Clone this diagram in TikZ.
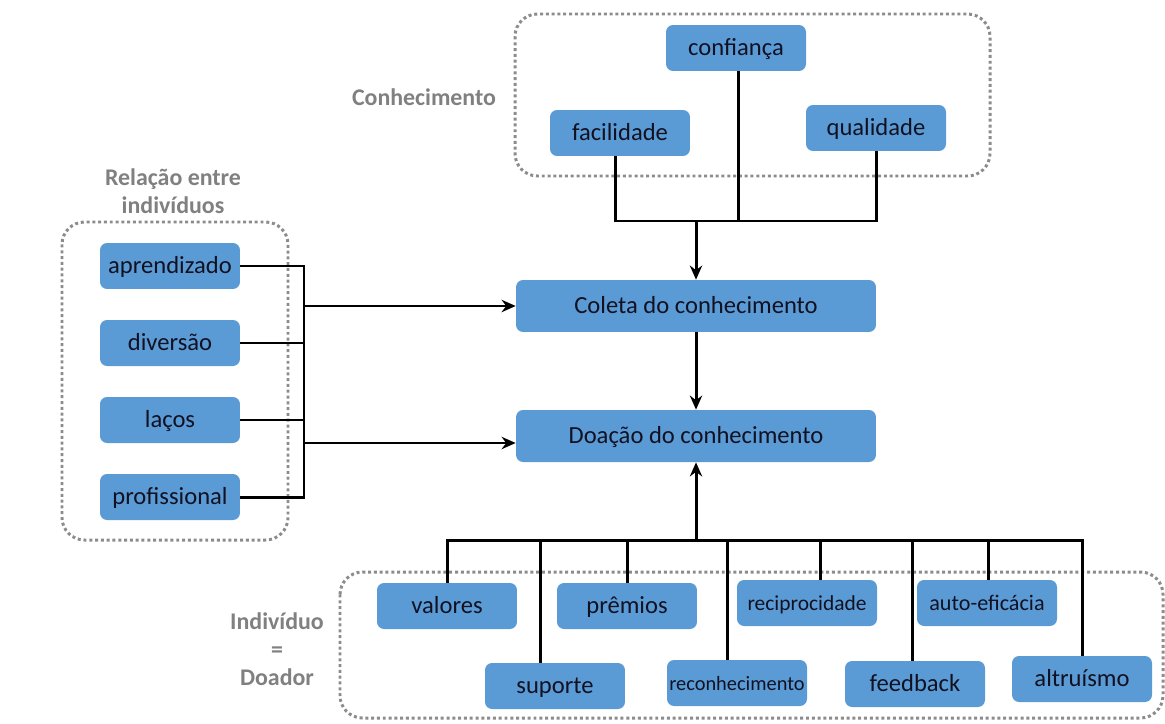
\documentclass[tikz,border=0pt]{standalone}
\usepackage{fontspec}
\setmainfont{Carlito}
\usetikzlibrary{arrows.meta}
\definecolor{azul}{HTML}{5B9BD5}
\definecolor{texto}{HTML}{111122}
\definecolor{cinza}{HTML}{808080}
\definecolor{pontos}{HTML}{8C8C8C}
\tikzset{
  caixa/.style={fill=azul, rounded corners=4pt, text=texto, minimum width=2.8cm,
    minimum height=0.92cm, inner sep=1pt, text height=10.6pt, text depth=2.4pt,
    font=\fontsize{14}{16}\selectfont},
  grande/.style={caixa, minimum width=7.2cm, minimum height=1.04cm},
  grupo/.style={draw=pontos, line width=1.7pt, dash pattern=on 1.7pt off 1.6pt, rounded corners=0.45cm},
  rotulo/.style={text=cinza, align=center, font=\bfseries\fontsize{13.6}{15.8}\selectfont},
  linha/.style={line width=1.7pt},
  seta/.style={linha, -{Stealth[length=8pt,width=7pt]}}
}
\begin{document}
\begin{tikzpicture}[x=0.02cm, y=-0.02cm]
\useasboundingbox (0,0) rectangle (1165,723);
% grupos
\draw[grupo] (515,14) rectangle (990,176);
\draw[grupo] (62,222) rectangle (288,540);
\draw[grupo] (340,572) rectangle (1163,718);
\node[rotulo] (lconh) at (424,97) {Conhecimento};
\node[rotulo] (lrel) at (173,191) {Relação entre\\indivíduos};
\node[rotulo] (lind) at (277,649) {Indivíduo\\=\\Doador};
% conhecimento
\node[caixa] (conf) at (736,48) {confiança};
\node[caixa] (facil) at (620,133) {facilidade};
\node[caixa] (qual) at (876,128) {qualidade};
% centro
\node[grande] (coleta) at (696,306) {Coleta do conhecimento};
\node[grande] (doacao) at (696,436) {Doação do conhecimento};
% relacao
\node[caixa] (aprend) at (170,266) {aprendizado};
\node[caixa] (divers) at (170,343) {diversão};
\node[caixa] (lacos) at (170,420) {laços};
\node[caixa] (prof) at (170,497) {profissional};
% doador
\node[caixa] (valores) at (447,606) {valores};
\node[caixa] (suporte) at (555,686) {suporte};
\node[caixa] (premios) at (627,606) {prêmios};
\node[caixa, font=\fontsize{11.6}{13}\selectfont] (reconh) at (737,683) {reconhecimento};
\node[caixa, font=\fontsize{12.2}{14}\selectfont] (recip) at (807,603) {reciprocidade};
\node[caixa] (feedb) at (915,684) {feedback};
\node[caixa, font=\fontsize{12.6}{14}\selectfont] (autoef) at (987,603) {auto-eficácia};
\node[caixa] (altru) at (1082,679) {altruísmo};
% ligacoes de cima
\coordinate (jtop) at (696,221);
\draw[linha] ([xshift=-0.1cm]facil.south) |- (jtop) -| (qual.south);
\draw[linha] ([xshift=0.04cm]conf.south) -- ([xshift=0.04cm]conf.south |- jtop);
\draw[seta] (jtop) -- (coleta);
\draw[seta] (coleta) -- (doacao);
% ligacoes da esquerda
\coordinate (jl) at (304,306);
\coordinate (jl2) at (304,443);
\draw[linha] (aprend.east) -- (aprend.east -| jl) -- (prof.east -| jl) -- (prof.east);
\foreach \n in {divers, lacos}
  \draw[linha] (\n.east) -- (\n.east -| jl);
\draw[seta] (jl) -- (coleta);
\draw[seta] (jl2) -- (jl2 -| doacao.west);
% ligacoes de baixo
\coordinate (jb) at (696,540);
\draw[seta] (jb) -- (doacao);
\draw[linha] (valores.north) |- (jb) -| (altru.north);
\foreach \n/\dx in {suporte/-0.3, premios/0, reconh/-0.2, recip/0.26, feedb/-0.06, autoef/0.02}
  \draw[linha] ([xshift=\dx cm]\n.north) -- ([xshift=\dx cm]\n.north |- jb);
\end{tikzpicture}
\end{document}
